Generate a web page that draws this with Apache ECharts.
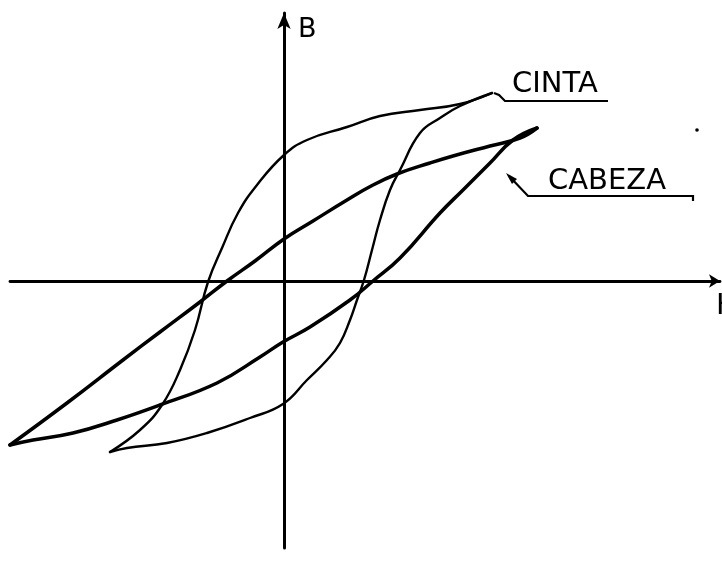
<!DOCTYPE html>
<html>
<head>
<meta charset="utf-8">
<title>Ciclos de histéresis</title>
<script src="https://cdn.jsdelivr.net/npm/echarts@6/dist/echarts.min.js"></script>
<style>
html,body{margin:0;padding:0;background:#fff;}
#main{width:722px;height:565px;}
</style>
</head>
<body>
<div id="main"></div>
<script>
// arbitrary units (H across, B up)
var cintaUpper = [[20.8,18.8],[17.6,17.7],[13.6,17.1],[9.6,16.5],[6.3,15.4],[2.3,14.1],[0,12.6],
    [-2.7,9.6],[-4.6,6.8],[-6.2,3.3],[-7.6,-0.1],[-8.9,-4.9],[-10.4,-8.9],[-12.2,-12.4],
    [-14.4,-14.9],[-17.4,-17.1]];
var cintaLower = [[-17.4,-17.1],[-15.7,-16.7],[-11.7,-16.2],[-7.7,-15.2],[-3.4,-13.7],[-0.1,-12.3],
    [2.3,-9.9],[4.3,-7.9],[5.6,-6.2],[6.6,-3.9],[7.3,-1.9],[8.0,0.1],[8.8,3.1],[9.6,6.1],
    [10.6,9.1],[11.6,11.1],[13.6,14.8],[15.6,16.3],[17.6,17.5],[20.8,18.8]];
var cabezaUpper = [[25.3,15.3],[23.6,14.3],[20.6,13.5],[16.9,12.5],[14.6,11.8],[11.3,10.7],[8.9,9.6],
    [6.3,8.1],[2.9,6.0],[0,4.2],[-2.9,2.0],[-5.7,0],[-8.4,-2.1],[-12.4,-5.1],[-16.1,-7.9],
    [-21.7,-12.2],[-27.4,-16.4]];
var cabezaLower = [[-27.4,-16.4],[-25.1,-15.9],[-21.1,-15.2],[-16.7,-13.9],[-12.4,-12.4],[-6.7,-10.2],
    [-2.4,-7.6],[-0.1,-6.1],[2.6,-4.6],[6.6,-1.9],[8.9,0],[11.6,2.3],[15.6,6.8],[17.9,9.1],
    [20.6,11.8],[22.9,14.1],[25.3,15.3]];

var hRange = [-27.4, 43.6];
var bRange = [-26.7, 26.8];

var chart = echarts.init(document.getElementById('main'));

function branch(name, data, width){
    return {
        name: name,
        type: 'line',
        data: data,
        smooth: 0.45,
        showSymbol: false,
        silent: true,
        lineStyle: {color: '#000', width: width, cap: 'round', join: 'round'}
    };
}

chart.setOption({
    animation: false,
    grid: {left: 10, right: 2, top: 13, bottom: 17},
    xAxis: {
        type: 'value',
        min: hRange[0],
        max: hRange[1],
        axisLine: {onZero: true, lineStyle: {color: '#000', width: 2.8}, symbol: ['none', 'arrow'], symbolSize: [10, 11]},
        axisTick: {show: false},
        axisLabel: {show: false},
        splitLine: {show: false}
    },
    yAxis: {
        type: 'value',
        min: bRange[0],
        max: bRange[1],
        axisLine: {onZero: true, lineStyle: {color: '#000', width: 3}, symbol: ['none', 'arrow'], symbolSize: [10, 16]},
        axisTick: {show: false},
        axisLabel: {show: false},
        splitLine: {show: false}
    },
    series: [
        branch('CINTA', cintaUpper, 2.4),
        branch('CINTA', cintaLower, 2.4),
        branch('CABEZA', cabezaUpper, 3.5),
        branch('CABEZA', cabezaLower, 3.5)
    ],
    graphic: [
        {type: 'text', left: 298, top: 16, style: {text: 'B', font: '27px "DejaVu Sans"', fill: '#000'}},
        {type: 'text', left: 716, top: 292, style: {text: 'H', font: '29px "DejaVu Sans"', fill: '#000'}},
        {type: 'text', left: 512, top: 70, style: {text: 'CINTA', font: '29px "DejaVu Sans"', fill: '#000'}},
        {type: 'text', left: 548, top: 167, style: {text: 'CABEZA', font: '29px "DejaVu Sans"', fill: '#000'}},
        {type: 'polyline', shape: {points: [[494, 93], [499, 95], [505, 101], [608, 101]]},
            style: {stroke: '#000', lineWidth: 2.2, fill: null}},
        {type: 'polyline', shape: {points: [[509, 176], [528, 196], [693, 196], [693, 201]]},
            style: {stroke: '#000', lineWidth: 2.2, fill: null}},
        {type: 'polygon', shape: {points: [[506, 173], [517, 179], [512, 184]]}, style: {fill: '#000'}},
        {type: 'circle', shape: {cx: 697, cy: 130, r: 1.8}, style: {fill: '#000'}}
    ]
});
</script>
</body>
</html>
